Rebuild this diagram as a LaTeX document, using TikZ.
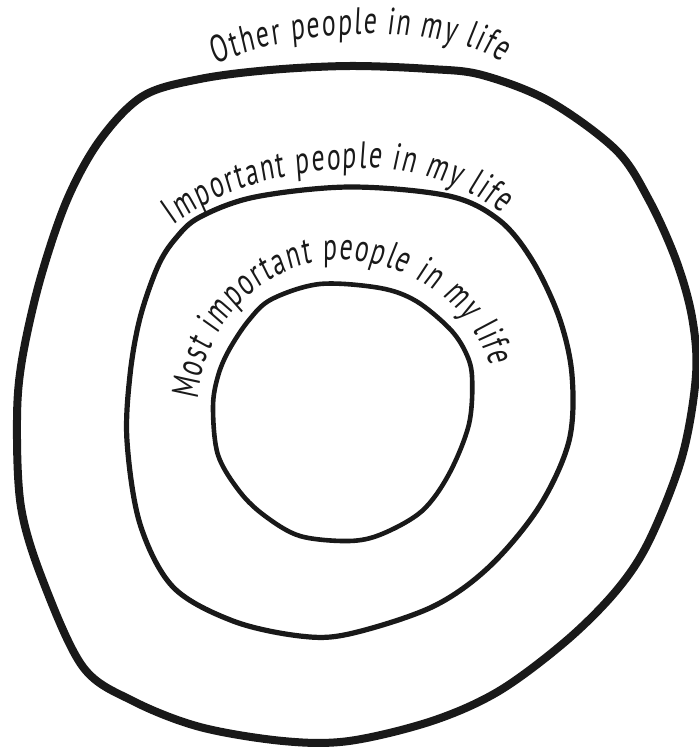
\documentclass[tikz,border=0pt]{standalone}
\usepackage{fontspec}
\newfontfamily\handfont{PT Sans}[FakeStretch=0.68,FakeSlant=0.08]
\newcommand{\ringfont}{\handfont\fontsize{19}{22}\selectfont}
\usetikzlibrary{decorations.text}
\begin{document}
\begin{tikzpicture}[
  x=0.5pt,
  y=-0.5pt,
  ring/.style={draw=black!90,line join=round},
  ring label/.style={decorate,decoration={text along path,text align={fit to path},text color=black!90}}
]
  \useasboundingbox (0,0) rectangle (699,749);

  \draw[ring,line width=4pt] plot[smooth cycle,tension=0.55] coordinates {
    (350,66) (430,69) (482,75) (549,101) (616,150) (649,200) (676,260)
    (692,317) (696,375) (682,457) (649,541) (616,591) (566,641) (499,691)
    (432,721) (349,741) (283,741) (200,727) (133,701) (83,667) (43,581)
    (21,507) (17,420) (22,360) (40,280) (67,200) (100,140) (143,96)
    (200,79) (270,70)};

  \draw[ring,line width=2.6pt] plot[smooth cycle,tension=0.55] coordinates {
    (350,187) (449,196) (499,220) (532,260) (559,317) (572,375) (569,441)
    (539,507) (489,567) (432,607) (349,634) (300,636) (233,621) (173,587)
    (140,524) (127,441) (130,375) (140,318) (158,266) (176,238) (200,217)
    (255,197)};

  \draw[ring,line width=2.3pt] plot[smooth cycle,tension=0.55] coordinates {
    (320,284) (380,288) (416,301) (449,328) (465,351) (472,376) (469,424)
    (449,474) (422,511) (382,534) (349,541) (300,536) (265,516) (240,492)
    (218,455) (213,407) (218,376) (229,350) (249,320) (272,299)};

  \path[ring label,decoration={text={|\ringfont|Other people in my life}}]
    (216,65) .. controls (270,40) and (330,33) .. (380,34)
    .. controls (420,35) and (470,42) .. (502,62);

  \path[ring label,decoration={text={|\ringfont|Important people in my life}}]
    (174,226) .. controls (218,188) and (290,170) .. (360,168)
    .. controls (420,167) and (470,189) .. (502,213);

  \path[ring label,decoration={text={|\ringfont|Most important people in my life}}]
    (198,400) .. controls (203,324) and (264,260) .. (340,260)
    .. controls (410,260) and (472,306) .. (490,366);
\end{tikzpicture}
\end{document}
